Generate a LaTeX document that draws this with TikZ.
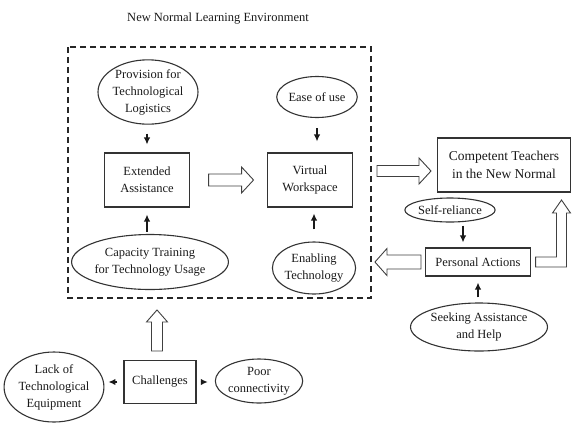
\documentclass[tikz,border=0pt]{standalone}
\usepackage{fontspec}
\setmainfont{Liberation Serif}
\usetikzlibrary{calc,arrows.meta,shapes.geometric}
\newcommand\hollowarrow[5]{%
  \begin{scope}[shift={(#1)},rotate=#2]
    \draw[hollow] (0,-#4) -- (#3-12,-#4) -- (#3-12,-#5) -- (#3,0) -- (#3-12,#5) -- (#3-12,#4) -- (0,#4) -- cycle;
  \end{scope}}
\begin{document}
\begin{tikzpicture}[x=1pt,y=-1pt,
  txt/.style={font=\fontsize{12.5}{17}\selectfont, align=center, text=black!90},
  el/.style={ellipse, draw=black!80, line width=1.1pt, inner sep=0pt, txt},
  bx/.style={rectangle, draw=black!80, line width=1.1pt, inner sep=0pt, txt},
  sa/.style={-{Latex[length=7pt,width=6.5pt]}, line width=1.3pt, draw=black!90},
  hollow/.style={draw=black!75, line width=0.9pt, fill=white, line join=miter},
  dashbox/.style={draw=black!85, line width=1.6pt, dash pattern=on 6pt off 4pt}]
\useasboundingbox (0,0) rectangle (585,426);

\node[txt] (title) at (218,19) {New Normal Learning Environment};
\draw[dashbox] (68,47) rectangle (371,298);
\coordinate (dbs) at (157,298);
\coordinate (dbe) at (371,171);

% left column
\node[el, minimum width=100, minimum height=59] (prov) at (148,92) {Provision for\\Technological\\Logistics};
\node[bx, minimum width=85, minimum height=54] (ext) at (147,180) {Extended\\Assistance};
\node[el, minimum width=137, minimum height=55] (cap) at (150,262) {Capacity Training\\for Technology Usage};

% middle column
\node[el, minimum width=78, minimum height=41] (ease) at (317,97) {Ease of use};
\node[bx, minimum width=85, minimum height=54] (virt) at (310,180) {Virtual\\Workspace};
\node[el, minimum width=83, minimum height=52] (enab) at (314,268) {Enabling\\Technology};

% right column
\node[bx, minimum width=133, minimum height=54, font=\fontsize{13.5}{18}\selectfont] (comp) at (504,165) {Competent Teachers\\in the New Normal};
\node[el, minimum width=79, minimum height=24] (self) at (450,210) {Self-reliance};
\node[bx, minimum width=105, minimum height=28] (pers) at (478,262) {Personal Actions};
\node[el, minimum width=119, minimum height=48] (seek) at (479,327) {Seeking Assistance\\and Help};

% bottom row
\node[bx, minimum width=72, minimum height=43] (chal) at (160,382) {Challenges};
\node[el, minimum width=91, minimum height=70] (lack) at (54,387) {Lack of\\Technological\\Equipment};
\node[el, minimum width=75, minimum height=44] (poor) at (259,381) {Poor\\connectivity};

% small arrows
\draw[sa, shorten <=9pt, shorten >=8pt] (ext.north |- prov.south) -- (ext.north);
\draw[sa, shorten <=10pt, shorten >=11pt] (ease.south) -- (ease.south |- virt.north);
\draw[sa, shorten <=2pt, shorten >=7pt] (ext.south |- cap.north) -- (ext.south);
\draw[sa, shorten <=12pt, shorten >=6pt] (enab.north) -- (virt.south -| enab.north);
\coordinate (sr) at ($(self.south -| pers.north)+(-15,0)$);
\draw[sa, shorten <=3pt, shorten >=5pt] (sr) -- (sr |- pers.north);
\draw[sa, shorten <=5pt, shorten >=6pt] (seek.north -| pers.south) -- (pers.south);
\draw[sa, shorten <=6pt, shorten >=4pt] (chal.west) -- (chal.west -| lack.east);
\draw[sa, shorten <=4pt, shorten >=7pt] (chal.east) -- (chal.east -| poor.west);

% hollow arrows
\coordinate (h1) at ($(ext.east)+(18.5,0)$);
\hollowarrow{h1}{0}{45}{6}{13}
\coordinate (h2) at ($(dbe)+(6,0)$);
\hollowarrow{h2}{0}{54}{5.5}{13}
\coordinate (h3) at ($(pers.west)+(-4,0)$);
\hollowarrow{h3}{180}{46}{7}{13.5}
\coordinate (h4) at ($(chal.north -| dbs)+(0,-9)$);
\hollowarrow{h4}{90}{41}{5.5}{10.5}

% elbow hollow arrow
\coordinate (e0) at ($(pers.east)+(4.5,0)$);
\draw[hollow] ($(e0)+(0,-5)$) -- (556.5,257) -- (556.5,213) -- (552.5,213) -- (561.5,200) -- (570.5,213) -- (566.5,213) -- (566.5,267) -- ($(e0)+(0,5)$) -- cycle;
\end{tikzpicture}
\end{document}
